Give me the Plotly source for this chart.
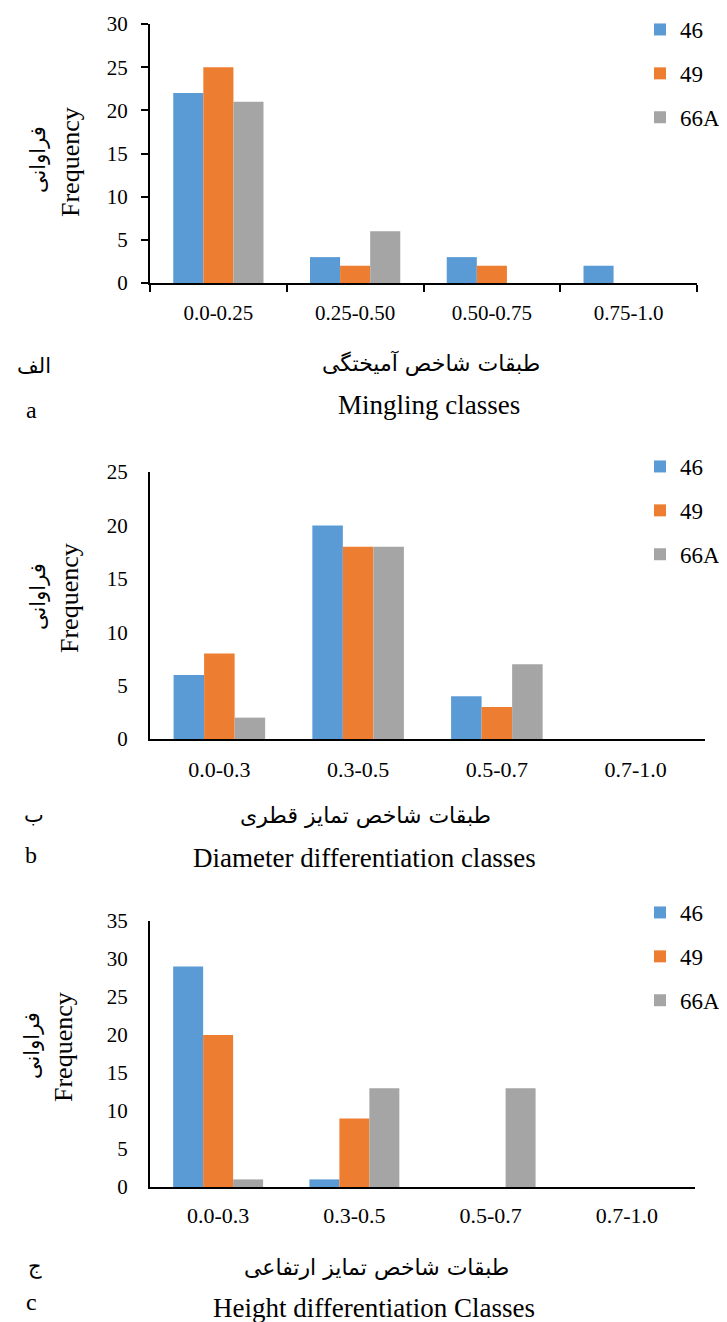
import plotly.graph_objects as go

W, H = 727, 1322
OFF = 8  # page body margin in the browser

series_names = ["46", "49", "66A"]
colors = ["#5B9BD5", "#ED7D31", "#A5A5A5"]

# Panel a (Mingling)
cats_a = ["0.0-0.25", "0.25-0.50", "0.50-0.75", "0.75-1.0"]
a_46 = [22, 3, 3, 2]
a_49 = [25, 2, 2, 0]
a_66A = [21, 6, 0, 0]

# Panel b (Diameter differentiation)
cats_b = ["0.0-0.3", "0.3-0.5", "0.5-0.7", "0.7-1.0"]
b_46 = [6, 20, 4, 0]
b_49 = [8, 18, 3, 0]
b_66A = [2, 18, 7, 0]

# Panel c (Height differentiation)
cats_c = ["0.0-0.3", "0.3-0.5", "0.5-0.7", "0.7-1.0"]
c_46 = [29, 1, 0, 0]
c_49 = [20, 9, 0, 0]
c_66A = [1, 13, 13, 0]

yt_a = [0, 5, 10, 15, 20, 25, 30]
yt_b = [0, 5, 10, 15, 20, 25]
yt_c = [0, 5, 10, 15, 20, 25, 30, 35]

SERIF = "Liberation Serif"
FA = "DejaVu Sans"

fig = go.Figure()

panels = [
    (cats_a, [a_46, a_49, a_66A], "x", "y", "legend"),
    (cats_b, [b_46, b_49, b_66A], "x2", "y2", "legend2"),
    (cats_c, [c_46, c_49, c_66A], "x3", "y3", "legend3"),
]
for cats, vals, xa, ya, lg in panels:
    for name, v, col in zip(series_names, vals, colors):
        fig.add_trace(go.Bar(
            x=cats, y=v, name=name, xaxis=xa, yaxis=ya, legend=lg,
            legendgroup=lg + name,
            marker=dict(color=col, line=dict(width=0)),
        ))

def px_x(p):
    return (p - OFF) / W

def px_y(p):
    return 1 - (p - OFF) / H

def axis_common(fs=21):
    return dict(showline=True, linecolor="black", linewidth=2, showgrid=False,
                zeroline=False, automargin=False,
                tickfont=dict(family=SERIF, size=fs, color="black"))

lay = dict(
    template="none",
    width=W, height=H, margin=dict(l=0, r=0, t=0, b=0, pad=0), autosize=False,
    paper_bgcolor="white", plot_bgcolor="white",
    barmode="group", bargap=0.34, bargroupgap=0,
    font=dict(family=SERIF, color="black"),
)

# panel a
lay["xaxis"] = dict(domain=[px_x(150), px_x(697)], anchor="y", type="category",
                    categoryorder="array", categoryarray=cats_a,
                    ticks="outside", tickson="boundaries", ticklen=7, tickcolor="black",
                    tickwidth=2, ticklabelstandoff=10, **axis_common(21))
lay["yaxis"] = dict(domain=[px_y(283), px_y(24)], anchor="x", range=[0, 30],
                    tickvals=yt_a, ticks="outside", ticklen=7, tickcolor="black",
                    tickwidth=2, ticklabelstandoff=9, **axis_common(21))
# panel b
lay["xaxis2"] = dict(domain=[px_x(150), px_x(705)], anchor="y2", type="category",
                     categoryorder="array", categoryarray=cats_b,
                     ticks="", ticklabelstandoff=10, **axis_common(22))
lay["yaxis2"] = dict(domain=[px_y(739), px_y(472)], anchor="x2", range=[0, 25],
                     tickvals=yt_b, ticks="", ticklabelstandoff=16, **axis_common(21))
# panel c
lay["xaxis3"] = dict(domain=[px_x(150), px_x(695)], anchor="y3", type="category",
                     categoryorder="array", categoryarray=cats_c,
                     ticks="", ticklabelstandoff=8, **axis_common(22))
lay["yaxis3"] = dict(domain=[px_y(1187), px_y(921)], anchor="x3", range=[0, 35],
                     tickvals=yt_c, ticks="", ticklabelstandoff=16, **axis_common(21))

def leg(ytop):
    return dict(x=px_x(640), y=min(1.0, px_y(ytop)), xanchor="left", yanchor="top",
                bgcolor="rgba(0,0,0,0)", borderwidth=0,
                font=dict(family=SERIF, size=23, color="black"),
                tracegroupgap=11, itemwidth=30)

lay["legend"] = leg(-2)
lay["legend2"] = leg(445)
lay["legend3"] = leg(891)

fig.update_layout(**lay)

def ann(text, x, y, size, family, angle=0):
    fig.add_annotation(text=text, x=px_x(x), y=px_y(y), xref="paper", yref="paper",
                       showarrow=False, textangle=angle, xanchor="center", yanchor="middle",
                       font=dict(family=family, size=size, color="black"))

# y titles
ann("Frequency", 70, 162, 26, SERIF, -90)
ann("فراوانی", 38, 160, 21, FA, -90)
ann("Frequency", 70, 598, 26, SERIF, -90)
ann("فراوانی", 38, 597, 21, FA, -90)
ann("Frequency", 63, 1047, 26, SERIF, -90)
ann("فراوانی", 32, 1045, 21, FA, -90)

# x titles
ann("طبقات شاخص آمیختگی", 431, 364, 22, FA)
ann("Mingling classes", 429, 405, 27, SERIF)
ann("طبقات شاخص تمایز قطری", 365, 816, 22, FA)
ann("Diameter differentiation classes", 364, 858, 27, SERIF)
ann("طبقات شاخص تمایز ارتفاعی", 376, 1268, 22, FA)
ann("Height differentiation Classes", 374, 1308, 27, SERIF)

# panel labels
ann("الف", 34, 366, 21, FA)
ann("a", 31, 410, 24, SERIF)
ann("ب", 34, 815, 21, FA)
ann("b", 31, 855, 24, SERIF)
ann("ج", 35, 1266, 21, FA)
ann("c", 31, 1302, 24, SERIF)

fig.write_html("out.html")
